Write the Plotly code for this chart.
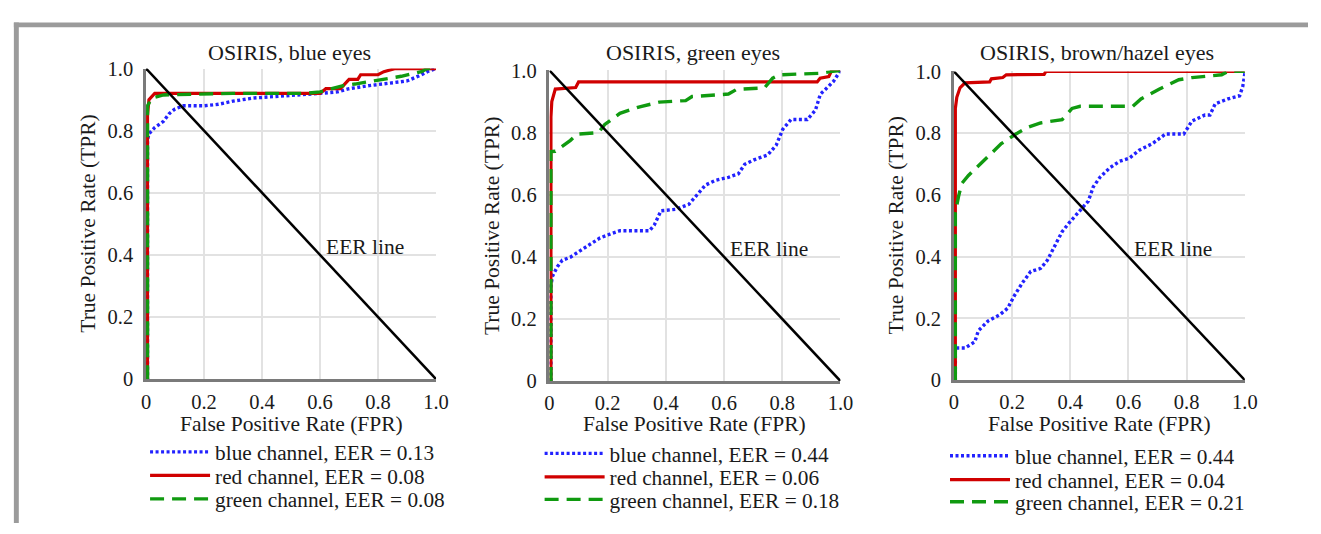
import plotly.graph_objects as go

# ---- data ----
PANEL_TITLES = ["OSIRIS, blue eyes", "OSIRIS, green eyes", "OSIRIS, brown/hazel eyes"]
SERIES_NAMES = ["blue channel", "red channel", "green channel"]
EER = [
    [0.13, 0.08, 0.08],
    [0.44, 0.06, 0.18],
    [0.44, 0.04, 0.21],
]
TICK_VALS = [0, 0.2, 0.4, 0.6, 0.8, 1.0]
TICK_TEXT = ["0", "0.2", "0.4", "0.6", "0.8", "1.0"]

# panel 1 - blue eyes
fpr_blue_1 = [0, 0.005, 0.005, 0.01, 0.03, 0.06, 0.08, 0.1, 0.13, 0.2, 0.25, 0.3, 0.37, 0.45,
              0.55, 0.6, 0.66, 0.7, 0.77, 0.85, 0.9, 0.95, 0.97, 1.0]
tpr_blue_1 = [0, 0.0, 0.77, 0.79, 0.81, 0.83, 0.855, 0.87, 0.88, 0.88, 0.885, 0.895, 0.905, 0.91,
              0.915, 0.92, 0.925, 0.935, 0.945, 0.955, 0.96, 0.98, 0.99, 1.0]
fpr_red_1 = [0.005, 0.005, 0.01, 0.03, 0.3, 0.6, 0.62, 0.67, 0.68, 0.7, 0.73, 0.74, 0.8, 0.82, 0.86, 1.0]
tpr_red_1 = [0, 0.85, 0.9, 0.92, 0.92, 0.92, 0.935, 0.935, 0.945, 0.965, 0.965, 0.98, 0.98, 0.99, 1.0, 1.0]
fpr_green_1 = [0.005, 0.005, 0.02, 0.06, 0.3, 0.55, 0.6, 0.68, 0.72, 0.82, 0.88, 0.95, 0.97, 1.0]
tpr_green_1 = [0, 0.88, 0.905, 0.915, 0.92, 0.92, 0.925, 0.945, 0.95, 0.965, 0.975, 0.99, 1.0, 1.0]

# panel 2 - green eyes
fpr_blue_2 = [0.005, 0.005, 0.01, 0.027, 0.044, 0.072, 0.106, 0.14, 0.174, 0.208, 0.242, 0.343, 0.36,
              0.383, 0.434, 0.479, 0.502, 0.536, 0.57, 0.615, 0.649, 0.671, 0.705, 0.75, 0.779,
              0.802, 0.83, 0.886, 0.914, 0.931, 0.954, 0.976, 1.0]
tpr_blue_2 = [0, 0.307, 0.337, 0.368, 0.389, 0.399, 0.42, 0.44, 0.461, 0.473, 0.484, 0.484, 0.502,
              0.548, 0.553, 0.569, 0.595, 0.631, 0.646, 0.656, 0.667, 0.698, 0.713, 0.728, 0.759,
              0.811, 0.842, 0.842, 0.872, 0.924, 0.944, 0.965, 1.0]
fpr_red_2 = [0.005, 0.005, 0.008, 0.015, 0.02, 0.09, 0.1, 0.92, 0.93, 0.96, 0.97, 1.0]
tpr_red_2 = [0, 0.85, 0.9, 0.93, 0.94, 0.945, 0.963, 0.963, 0.975, 0.98, 1.0, 1.0]
fpr_green_2 = [0.005, 0.005, 0.02, 0.05, 0.072, 0.095, 0.168, 0.19, 0.242, 0.31, 0.377, 0.468, 0.49,
               0.615, 0.643, 0.739, 0.767, 0.79, 0.931, 0.965, 1.0]
tpr_green_2 = [0, 0.739, 0.74, 0.759, 0.775, 0.795, 0.8, 0.826, 0.862, 0.883, 0.898, 0.903, 0.916,
               0.924, 0.939, 0.944, 0.975, 0.986, 0.991, 0.996, 1.0]

# panel 3 - brown/hazel eyes
fpr_blue_3 = [0.005, 0.005, 0.038, 0.072, 0.084, 0.118, 0.158, 0.185, 0.208, 0.236, 0.264, 0.298,
              0.321, 0.343, 0.372, 0.394, 0.423, 0.462, 0.479, 0.502, 0.536, 0.57, 0.603, 0.637,
              0.682, 0.727, 0.79, 0.818, 0.863, 0.88, 0.898, 0.942, 0.982, 0.993, 1.0]
tpr_blue_3 = [0, 0.104, 0.104, 0.124, 0.16, 0.192, 0.212, 0.233, 0.274, 0.316, 0.352, 0.362, 0.388,
              0.43, 0.481, 0.507, 0.538, 0.58, 0.626, 0.657, 0.688, 0.709, 0.719, 0.745, 0.766,
              0.797, 0.797, 0.839, 0.859, 0.859, 0.895, 0.911, 0.921, 0.952, 0.994]
fpr_red_3 = [0.005, 0.005, 0.01, 0.021, 0.038, 0.123, 0.129, 0.168, 0.18, 0.31, 0.316, 1.0]
tpr_red_3 = [0, 0.88, 0.916, 0.947, 0.963, 0.966, 0.976, 0.98, 0.989, 0.99, 1.0, 1.0]
fpr_green_3 = [0.005, 0.005, 0.016, 0.027, 0.05, 0.084, 0.118, 0.163, 0.213, 0.252, 0.298, 0.372,
               0.406, 0.434, 0.615, 0.643, 0.705, 0.773, 0.818, 0.92, 0.942, 1.0]
tpr_green_3 = [0, 0.543, 0.595, 0.637, 0.663, 0.694, 0.725, 0.766, 0.797, 0.818, 0.833, 0.844,
               0.88, 0.887, 0.887, 0.911, 0.942, 0.973, 0.98, 0.989, 1.0, 1.0]

EER_LINE_X = [0, 1]
EER_LINE_Y = [1, 0]

panels = [
    [(fpr_blue_1, tpr_blue_1), (fpr_red_1, tpr_red_1), (fpr_green_1, tpr_green_1)],
    [(fpr_blue_2, tpr_blue_2), (fpr_red_2, tpr_red_2), (fpr_green_2, tpr_green_2)],
    [(fpr_blue_3, tpr_blue_3), (fpr_red_3, tpr_red_3), (fpr_green_3, tpr_green_3)],
]

W, H = 1321, 534
FONT = "Liberation Serif"
colours = ["#2222ff", "#d00000", "#109a10"]
dashes = ["3px,2.5px", "solid", "14px,8px"]
widths = [3.4, 3.2, 3.4]

# plot areas in pixels (left, right, top, bottom)
boxes = [(143, 437, 60, 384), (552, 847, 62, 386), (962, 1257, 63, 385)]
# legend: where the line sample starts, and the centre of each row (pixels)
legend_x = [152, 552, 963]
legend_rows = [[460, 484.5, 509], [461.5, 486, 509.5], [464, 489, 512]]


def px(x):
    return x / W


def py(y):
    return 1 - y / H


fig = go.Figure()
layout = dict(
    width=W, height=H,
    margin=dict(l=0, r=0, t=0, b=0),
    paper_bgcolor="white", plot_bgcolor="white",
    font=dict(family=FONT, color="#1a1a1a", size=21),
    hovermode=False,
    annotations=[], shapes=[],
)

n = 0
for i, curves in enumerate(panels):
    ax = "" if i == 0 else str(i + 1)
    for j, (xs, ys) in enumerate(curves):
        n += 1
        lg = "legend" if n == 1 else f"legend{n}"
        fig.add_trace(go.Scatter(
            x=xs, y=ys, mode="lines",
            name=f"{SERIES_NAMES[j]}, EER = {EER[i][j]:.2f}",
            line=dict(color=colours[j], width=widths[j], dash=dashes[j]),
            xaxis="x" + ax, yaxis="y" + ax,
            legend=lg,
        ))
        # one legend row per curve so the row spacing follows the picture
        layout[lg] = dict(
            x=px(legend_x[i] - 10), y=py(legend_rows[i][j]), xanchor="left", yanchor="middle",
            bgcolor="rgba(0,0,0,0)", font=dict(family=FONT, size=21.3, color="#1a1a1a"),
            itemwidth=60,
        )
    # diagonal EER line
    fig.add_trace(go.Scatter(
        x=EER_LINE_X, y=EER_LINE_Y, mode="lines",
        line=dict(color="black", width=2.5),
        xaxis="x" + ax, yaxis="y" + ax, showlegend=False, hoverinfo="skip",
    ))

axis_common = dict(
    range=[0, 1], tickvals=TICK_VALS, ticktext=TICK_TEXT,
    showgrid=True, gridcolor="#e2e2e2", gridwidth=1.5,
    showline=True, linecolor="#7a7a7a", linewidth=2.5,
    zeroline=False, ticks="", fixedrange=True,
    tickfont=dict(family=FONT, size=20.5, color="#1a1a1a"),
)

for i, (l, r, t, b) in enumerate(boxes):
    ax = "" if i == 0 else str(i + 1)
    layout["xaxis" + ax] = dict(axis_common, domain=[px(l), px(r)], anchor="y" + ax,
                                ticklabelstandoff=2)
    layout["yaxis" + ax] = dict(axis_common, domain=[py(b), py(t)], anchor="x" + ax,
                                ticklabelstandoff=6)
    cx = (l + r) / 2
    # panel title
    layout["annotations"].append(dict(
        text=PANEL_TITLES[i], xref="paper", yref="paper", x=px(cx - 2), y=py(43),
        xanchor="center", yanchor="middle", showarrow=False,
        font=dict(family=FONT, size=22)))
    # axis titles
    layout["annotations"].append(dict(
        text="False Positive Rate (FPR)", xref="paper", yref="paper", x=px(cx), y=py(431),
        xanchor="center", yanchor="middle", showarrow=False,
        font=dict(family=FONT, size=21.5)))
    layout["annotations"].append(dict(
        text="True Positive Rate (TPR)", xref="paper", yref="paper", x=px(l - 59), y=py((t + b) / 2),
        xanchor="center", yanchor="middle", showarrow=False, textangle=-90,
        font=dict(family=FONT, size=21.5)))
    # EER label
    layout["annotations"].append(dict(
        text="EER line", xref="x" + ax, yref="y" + ax, x=0.612, y=0.426,
        xanchor="left", yanchor="middle", showarrow=False,
        font=dict(family=FONT, size=21.5)))

# grey frame around the figure (top and left edges)
layout["shapes"] += [
    dict(type="rect", xref="paper", yref="paper", x0=px(9), x1=1, y0=py(17), y1=py(12),
         fillcolor="#9b9b9b", line=dict(width=0), layer="above"),
    dict(type="rect", xref="paper", yref="paper", x0=px(9), x1=px(14), y0=0, y1=py(12),
         fillcolor="#9b9b9b", line=dict(width=0), layer="above"),
]

fig.update_layout(**layout)
fig.write_html("out.html", config={"displayModeBar": False},
               post_script="document.body.style.margin = '0';")
